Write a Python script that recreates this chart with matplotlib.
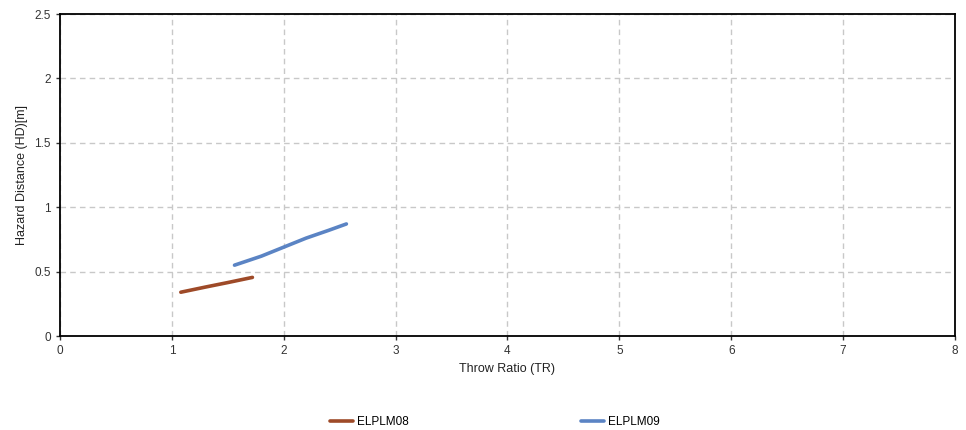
import matplotlib
matplotlib.use("Agg")
import matplotlib.pyplot as plt
import numpy as np

# data
tr_08 = [1.08, 1.3, 1.5, 1.72]
hd_08 = [0.34, 0.38, 0.415, 0.455]
tr_09 = [1.56, 1.8, 2.0, 2.2, 2.4, 2.56]
hd_09 = [0.55, 0.62, 0.69, 0.76, 0.82, 0.87]

plt.rcParams['font.family'] = ['Liberation Sans', 'DejaVu Sans']


def main():
    fig = plt.figure(figsize=(9.66, 4.30), dpi=100)
    ax = fig.add_axes([0.0621, 0.2186, 0.9265, 0.7488])

    ax.plot(tr_08, hd_08, color='#9E4A28', lw=2.6, solid_capstyle='round', label='ELPLM08')
    ax.plot(tr_09, hd_09, color='#5B84C4', lw=2.6, solid_capstyle='round', label='ELPLM09')

    ax.set_xlim(0, 8)
    ax.set_ylim(0, 2.5)
    ax.set_xticks(np.arange(0, 9, 1))
    ax.set_yticks([0, 0.5, 1, 1.5, 2, 2.5])
    ax.set_yticklabels(['0', '0.5', '1', '1.5', '2', '2.5'])
    ax.grid(True, color='#c8c8c8', ls=(0, (4, 3)), lw=1)
    ax.set_axisbelow(True)
    for s in ax.spines.values():
        s.set_color('black')
        s.set_linewidth(1.3)
    ax.tick_params(labelsize=8.5, length=3, width=1, colors='#333333', labelcolor='#333333')
    ax.set_xlabel('Throw Ratio (TR)', fontsize=9, color='#222222', labelpad=4)
    ax.set_ylabel('Hazard Distance (HD)[m]', fontsize=9, color='#222222', labelpad=5)

    fig.legend(loc='center', bbox_to_anchor=(0.512, 0.018), ncol=2, frameon=False,
               fontsize=8.5, handlelength=2.0, handletextpad=0.3, columnspacing=14.6)

    fig.savefig('out.png', dpi=100)


if __name__ == "__main__":
    main()
